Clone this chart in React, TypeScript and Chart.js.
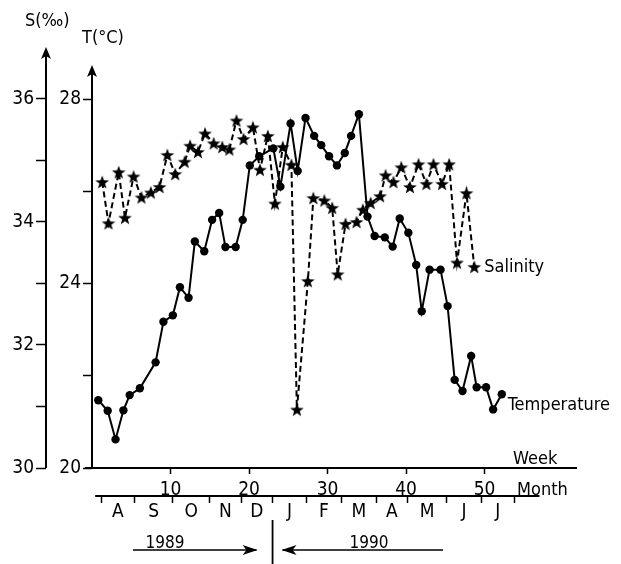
import React, { useEffect, useRef } from 'react';
import { Chart, registerables } from 'chart.js';

Chart.register(...registerables);

// ---- data (week number, value) ----
const tempWeeks = [0.8, 2.0, 3.0, 4.0, 4.8, 6.1, 8.1, 9.1, 10.3, 11.2, 12.3, 13.1, 14.3, 15.3, 16.2, 17.0, 18.3, 19.2, 20.1, 21.3, 23.1, 24.0, 25.3, 26.2, 27.2, 28.3, 29.2, 30.2, 31.2, 32.2, 33.0, 34.0, 35.1, 36.0, 37.3, 38.3, 39.2, 40.3, 41.3, 42.0, 43.0, 44.4, 45.3, 46.2, 47.2, 48.3, 49.0, 50.2, 51.1, 52.2];
const tempValues = [21.47, 21.24, 20.62, 21.25, 21.58, 21.73, 22.29, 23.17, 23.31, 23.92, 23.69, 24.91, 24.70, 25.38, 25.53, 24.79, 24.79, 25.38, 26.56, 26.76, 26.93, 26.10, 27.47, 26.44, 27.59, 27.20, 27.00, 26.76, 26.56, 26.83, 27.20, 27.67, 25.45, 25.03, 25.00, 24.80, 25.41, 25.10, 24.40, 23.40, 24.30, 24.30, 23.51, 21.91, 21.67, 22.43, 21.75, 21.75, 21.27, 21.60];

const salWeeks = [1.3, 2.1, 3.4, 4.2, 5.3, 6.3, 7.5, 8.6, 9.6, 10.6, 11.8, 12.5, 13.5, 14.4, 15.5, 16.6, 17.5, 18.4, 19.3, 20.5, 21.4, 22.4, 23.3, 24.3, 25.4, 26.1, 27.5, 28.2, 29.6, 30.6, 31.3, 32.3, 33.7, 34.5, 35.5, 36.7, 37.4, 38.4, 39.4, 40.5, 41.6, 42.6, 43.5, 44.6, 45.5, 46.5, 47.7, 48.7];
const salValues = [34.65, 33.98, 34.81, 34.07, 34.74, 34.40, 34.48, 34.57, 35.09, 34.78, 34.98, 35.24, 35.14, 35.44, 35.28, 35.22, 35.18, 35.65, 35.35, 35.54, 34.85, 35.40, 34.30, 35.22, 34.93, 30.95, 33.04, 34.39, 34.35, 34.23, 33.15, 33.97, 34.00, 34.20, 34.31, 34.42, 34.76, 34.65, 34.89, 34.57, 34.94, 34.62, 34.94, 34.62, 34.94, 33.34, 34.47, 33.27];

const weekTicks = [10, 20, 30, 40, 50];
const monthBounds = [1.2, 5.4, 10.3, 15.0, 19.0, 23.0, 27.3, 31.8, 36.2, 40.2, 45.2, 49.6, 53.8];
const monthLabels = ['A', 'S', 'O', 'N', 'D', 'J', 'F', 'M', 'A', 'M', 'J', 'J'];
const salinityTicks = [30, 31, 32, 33, 34, 35, 36];
const salinityLabelled = [30, 32, 34, 36];
const tempTicks = [20, 22, 24, 26, 28];
const tempLabelled = [20, 24, 28];
const yearSplitWeek = 23.0;

const FONT = "'Liberation Sans Narrow', 'DejaVu Sans Condensed', 'Liberation Sans', sans-serif";

// month axis ticks: boundaries (tick marks) interleaved with midpoints (letters)
const monthTickValues: number[] = [];
const monthTickText: string[] = [];
monthBounds.forEach((b, i) => {
  monthTickValues.push(b);
  monthTickText.push('');
  if (i < monthLabels.length) {
    monthTickValues.push((b + monthBounds[i + 1]) / 2);
    monthTickText.push(monthLabels[i]);
  }
});

function makeStar(): HTMLCanvasElement {
  const c = document.createElement('canvas');
  c.width = 18;
  c.height = 18;
  const g = c.getContext('2d')!;
  g.fillStyle = '#000';
  g.beginPath();
  for (let i = 0; i < 10; i++) {
    const r = i % 2 === 0 ? 7.2 : 3.0;
    const a = -Math.PI / 2 + (i * Math.PI) / 5;
    const px = 9 + r * Math.cos(a);
    const py = 9.6 + r * Math.sin(a);
    if (i === 0) g.moveTo(px, py);
    else g.lineTo(px, py);
  }
  g.closePath();
  g.fill();
  return c;
}

function arrowUp(ctx: CanvasRenderingContext2D, x: number, tipY: number) {
  ctx.beginPath();
  ctx.moveTo(x, tipY);
  ctx.lineTo(x - 5, tipY + 12);
  ctx.lineTo(x, tipY + 9);
  ctx.lineTo(x + 5, tipY + 12);
  ctx.closePath();
  ctx.fill();
}

function arrowH(ctx: CanvasRenderingContext2D, tipX: number, y: number, dir: number) {
  ctx.beginPath();
  ctx.moveTo(tipX, y);
  ctx.lineTo(tipX - dir * 15, y - 5);
  ctx.lineTo(tipX - dir * 11, y);
  ctx.lineTo(tipX - dir * 15, y + 5);
  ctx.closePath();
  ctx.fill();
}

const decorPlugin = {
  id: 'decor',
  afterDraw(chart: any) {
    const ctx: CanvasRenderingContext2D = chart.ctx;
    const area = chart.chartArea;
    const yS = chart.scales.yS;
    const yT = chart.scales.yT;
    const xm = chart.scales.xm;
    ctx.save();
    ctx.strokeStyle = '#000';
    ctx.fillStyle = '#000';
    ctx.lineWidth = 2;
    // S axis
    const sx = yS.right;
    ctx.beginPath();
    ctx.moveTo(sx, area.bottom);
    ctx.lineTo(sx, 50);
    ctx.stroke();
    arrowUp(ctx, sx, 47);
    // T axis
    const tx = yT.right;
    ctx.beginPath();
    ctx.moveTo(tx, area.bottom + 1);
    ctx.lineTo(tx, 68);
    ctx.stroke();
    arrowUp(ctx, tx, 65);
    // week axis extension to the left
    ctx.beginPath();
    ctx.moveTo(85, area.bottom);
    ctx.lineTo(area.left, area.bottom);
    ctx.stroke();
    // month line
    const my = xm.top;
    ctx.lineWidth = 1.8;
    ctx.beginPath();
    ctx.moveTo(xm.getPixelForValue(0.4), my);
    ctx.lineTo(xm.getPixelForValue(57.0), my);
    ctx.stroke();

    // axis titles
    ctx.font = `18px ${FONT}`;
    ctx.textBaseline = 'middle';
    ctx.textAlign = 'left';
    ctx.fillText('S(‰)', 25, 21);
    ctx.fillText('T(°C)', 82, 38);
    ctx.fillText('Week', 513, 459);
    ctx.fillText('Month', 517, 490);

    // series labels next to last points
    const metaT = chart.getDatasetMeta(0);
    const metaS = chart.getDatasetMeta(1);
    const lastT = metaT.data[metaT.data.length - 1];
    const lastS = metaS.data[metaS.data.length - 1];
    ctx.fillText('Salinity', lastS.x + 10, lastS.y);
    ctx.fillText('Temperature', lastT.x + 6, lastT.y + 11);

    // years
    const splitX = xm.getPixelForValue(yearSplitWeek);
    ctx.lineWidth = 1.8;
    ctx.beginPath();
    ctx.moveTo(splitX, 520);
    ctx.lineTo(splitX, 564);
    ctx.stroke();
    ctx.lineWidth = 1.5;
    ctx.beginPath();
    ctx.moveTo(133, 550);
    ctx.lineTo(splitX - 16, 550);
    ctx.moveTo(splitX + 10, 550);
    ctx.lineTo(443, 550);
    ctx.stroke();
    arrowH(ctx, splitX - 15, 550, 1);
    arrowH(ctx, splitX + 9, 550, -1);
    ctx.font = `17px ${FONT}`;
    ctx.textAlign = 'center';
    ctx.textBaseline = 'alphabetic';
    ctx.fillText('1989', 165, 548);
    ctx.fillText('1990', 369, 548);
    ctx.restore();
  },
};

export default function App() {
  const ref = useRef<HTMLCanvasElement>(null);

  useEffect(() => {
    if (!ref.current) return;
    const star = makeStar();
    const chart = new Chart(ref.current, {
      type: 'line',
      data: {
        datasets: [
          {
            label: 'Temperature',
            data: tempWeeks.map((w, i) => ({ x: w, y: tempValues[i] })),
            yAxisID: 'yT',
            xAxisID: 'x',
            borderColor: '#000',
            backgroundColor: '#000',
            borderWidth: 2,
            pointRadius: 4.2,
            pointStyle: 'circle',
            pointBackgroundColor: '#000',
            pointBorderWidth: 0,
            tension: 0,
          },
          {
            label: 'Salinity',
            data: salWeeks.map((w, i) => ({ x: w, y: salValues[i] })),
            yAxisID: 'yS',
            xAxisID: 'x',
            borderColor: '#000',
            backgroundColor: '#000',
            borderWidth: 2,
            borderDash: [6, 3.5],
            pointStyle: star as any,
            pointRadius: 7,
            tension: 0,
          },
        ],
      },
      options: {
        responsive: false,
        devicePixelRatio: 1,
        animation: false,
        events: [],
        layout: { padding: { left: 0, top: 47, right: 45, bottom: 0 } },
        plugins: {
          legend: { display: false },
          tooltip: { enabled: false },
        },
        scales: {
          x: {
            type: 'linear',
            position: 'bottom',
            weight: 0,
            min: 0,
            max: (576 - 92) / 7.85,
            afterBuildTicks: (s: any) => {
              s.ticks = weekTicks.map((v) => ({ value: v }));
            },
            afterFit: (s: any) => {
              s.height = 28;
            },
            ticks: {
              autoSkip: false,
              maxRotation: 0,
              color: '#000',
              padding: 5,
              font: { family: FONT, size: 19 },
              callback: (v: any) => String(v),
            },
            grid: {
              drawOnChartArea: false,
              drawTicks: true,
              tickLength: 6,
              tickColor: '#000',
              tickWidth: 1.5,
              color: '#000',
            },
            border: { display: true, color: '#000', width: 2 },
          },
          xm: {
            type: 'linear',
            position: 'bottom',
            weight: 1,
            min: 0,
            max: (576 - 92) / 7.85,
            afterBuildTicks: (s: any) => {
              s.ticks = monthTickValues.map((v) => ({ value: v }));
            },
            afterFit: (s: any) => {
              s.height = 68;
            },
            ticks: {
              autoSkip: false,
              maxRotation: 0,
              color: '#000',
              padding: -2,
              font: { family: FONT, size: 19 },
              callback: (_v: any, i: number) => monthTickText[i],
            },
            grid: {
              drawOnChartArea: false,
              drawTicks: true,
              tickLength: 7,
              tickWidth: 1.5,
              tickColor: (c: any) => (monthTickText[c.index] === '' ? '#000' : 'rgba(0,0,0,0)'),
              color: '#000',
            },
            border: { display: false },
          },
          yS: {
            type: 'linear',
            position: 'left',
            weight: 1,
            min: 30,
            max: 30 + (468 - 47) / 61.5,
            afterBuildTicks: (s: any) => {
              s.ticks = salinityTicks.map((v) => ({ value: v }));
            },
            afterFit: (s: any) => {
              s.width = 46;
            },
            ticks: {
              autoSkip: false,
              color: '#000',
              padding: 2,
              font: { family: FONT, size: 19 },
              callback: (v: any) => (salinityLabelled.includes(v) ? String(v) : ''),
            },
            grid: {
              drawOnChartArea: false,
              drawTicks: true,
              tickLength: 10,
              tickWidth: 1.5,
              tickColor: '#000',
              color: '#000',
            },
            border: { display: false },
          },
          yT: {
            type: 'linear',
            position: 'left',
            weight: 0,
            min: 20,
            max: 20 + (468 - 47) / 46.125,
            afterBuildTicks: (s: any) => {
              s.ticks = tempTicks.map((v) => ({ value: v }));
            },
            afterFit: (s: any) => {
              s.width = 46;
            },
            ticks: {
              autoSkip: false,
              color: '#000',
              padding: 2,
              font: { family: FONT, size: 19 },
              callback: (v: any) => (tempLabelled.includes(v) ? String(v) : ''),
            },
            grid: {
              drawOnChartArea: false,
              drawTicks: true,
              tickLength: 9,
              tickWidth: 1.5,
              tickColor: '#000',
              color: '#000',
            },
            border: { display: false },
          },
        },
      },
      plugins: [decorPlugin as any],
    });
    return () => chart.destroy();
  }, []);

  return (
    <div style={{ position: 'absolute', left: 0, top: 0, width: 621, height: 564, background: '#fff' }}>
      <canvas ref={ref} width={621} height={564} style={{ display: 'block' }} />
    </div>
  );
}
